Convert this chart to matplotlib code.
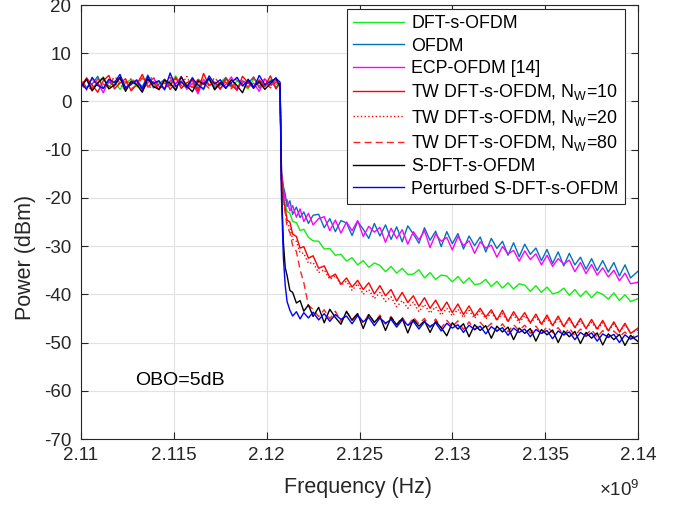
import matplotlib
matplotlib.use("Agg")
import matplotlib.pyplot as plt
from matplotlib.ticker import FixedLocator, FixedFormatter

plt.rcParams['font.family'] = ['Liberation Sans', 'DejaVu Sans']
plt.rcParams['mathtext.fontset'] = 'custom'
plt.rcParams['mathtext.rm'] = 'Liberation Sans'
plt.rcParams['mathtext.it'] = 'Liberation Sans:italic'
plt.rcParams['axes.unicode_minus'] = False

# ---------------- data (frequency in GHz, power in dBm) ----------------
f_in = [2.1100, 2.1103, 2.1106, 2.1109, 2.1112, 2.1115, 2.1118, 2.1121, 2.1124, 2.1127,
        2.1130, 2.1133, 2.1136, 2.1139, 2.1142, 2.1145, 2.1148, 2.1151, 2.1154, 2.1157,
        2.1160, 2.1163, 2.1166, 2.1169, 2.1172, 2.1175, 2.1178, 2.1181, 2.1184, 2.1187,
        2.1190, 2.1193, 2.1196, 2.1199, 2.1202, 2.1205, 2.12072]
f_out = [2.12080, 2.12090, 2.12100, 2.12110, 2.12125, 2.12140, 2.12160, 2.12180, 2.12200, 2.12225,
         2.12250, 2.12280, 2.12310, 2.12340, 2.12370, 2.12400, 2.12430, 2.12460, 2.12490, 2.12520,
         2.1255, 2.1258, 2.1261, 2.1264, 2.1267, 2.1270, 2.1273, 2.1276, 2.1279, 2.1282,
         2.1285, 2.1288, 2.1291, 2.1294, 2.1297, 2.1300, 2.1303, 2.1306, 2.1309, 2.1312,
         2.1315, 2.1318, 2.1321, 2.1324, 2.1327, 2.1330, 2.1333, 2.1336, 2.1339, 2.1342,
         2.1345, 2.1348, 2.1351, 2.1354, 2.1357, 2.1360, 2.1363, 2.1366, 2.1369, 2.1372,
         2.1375, 2.1378, 2.1381, 2.1384, 2.1387, 2.1390, 2.1393, 2.1396, 2.1400]

dft_in = [3.2, 4.5, 2.8, 3.9, 5.1, 3.0, 4.2, 2.5, 3.8, 4.6, 3.1, 2.7, 4.9, 3.5, 4.1, 2.6, 3.7, 5.3, 3.3, 2.9,
          4.4, 3.6, 2.4, 4.8, 3.2, 3.9, 5.0, 2.8, 4.3, 3.4, 2.6, 4.7, 3.8, 3.0, 4.5, 3.6, 3.3]
dft_out = [-16.0, -19.6, -21.3, -22.8, -23.2, -24.9, -25.1, -26.8, -26.5, -28.2,
           -28.9, -29.0, -30.6, -30.5, -31.9, -31.7, -33.1, -32.4, -33.9, -33.0,
           -34.4, -33.5, -34.0, -35.3, -34.2, -35.6, -34.6, -35.9, -35.8, -34.9,
           -36.6, -35.5, -36.9, -36.0, -36.2, -37.4, -36.3, -37.7, -36.6, -38.0,
           -37.8, -36.9, -38.4, -37.3, -38.7, -37.6, -38.9, -37.8, -38.1, -39.4,
           -38.2, -39.6, -38.5, -39.9, -39.6, -38.7, -40.2, -39.0, -40.5, -39.3,
           -40.7, -39.5, -40.0, -41.0, -39.7, -41.3, -40.1, -41.5, -40.9]

ofdm_in = [4.1, 2.9, 3.6, 5.2, 2.7, 4.0, 3.3, 4.8, 2.6, 3.9, 4.4, 3.0, 5.5, 2.8, 3.6, 4.6, 2.5, 3.8, 4.2, 3.1,
           5.0, 2.7, 3.9, 4.5, 2.9, 3.4, 4.9, 3.2, 2.6, 4.3, 3.7, 5.1, 2.8, 3.5, 4.2, 3.0, 3.6]
ofdm_out = [-14.5, -17.6, -19.2, -21.8, -20.6, -23.4, -21.9, -24.1, -22.9, -25.3,
            -23.6, -23.4, -26.2, -24.3, -27.0, -24.7, -25.2, -27.8, -24.9, -26.5,
            -28.4, -25.3, -27.9, -25.6, -28.6, -26.0, -29.1, -25.8, -27.5, -29.4,
            -26.2, -28.8, -26.9, -30.1, -27.0, -29.5, -27.4, -30.6, -27.9, -29.9,
            -28.1, -31.2, -28.4, -30.5, -29.0, -31.9, -29.3, -32.2, -29.6, -31.7,
            -30.4, -33.0, -30.7, -33.6, -31.2, -34.1, -31.5, -33.9, -32.3, -34.8,
            -32.6, -35.1, -33.0, -35.4, -33.4, -36.2, -33.9, -36.6, -35.2]

ecp_in = [3.5, 4.7, 2.6, 3.9, 1.8, 4.4, 3.2, 5.0, 2.9, 3.7, 4.5, 2.2, 3.9, 4.8, 3.1, 2.7, 4.3, 3.6, 5.2, 2.5,
          3.8, 1.6, 4.6, 3.3, 4.0, 2.8, 3.5, 5.1, 2.4, 4.2, 3.0, 3.8, 2.1, 4.7, 3.4, 4.0, 3.4]
ecp_out = [-15.2, -18.3, -20.5, -20.4, -22.7, -21.6, -24.0, -22.3, -24.9, -23.2,
           -25.6, -24.3, -23.9, -26.8, -24.6, -27.3, -25.0, -26.8, -24.7, -28.0,
           -25.9, -27.1, -26.1, -29.2, -26.3, -28.4, -26.6, -29.6, -27.0, -28.7,
           -26.8, -30.3, -27.5, -29.0, -28.2, -30.8, -28.0, -29.9, -28.9, -31.5,
           -29.1, -30.4, -29.8, -32.3, -30.1, -31.6, -30.9, -33.1, -31.0, -32.8,
           -31.6, -33.9, -31.9, -34.2, -32.6, -33.7, -32.9, -35.3, -33.4, -35.7,
           -33.8, -36.0, -34.5, -36.4, -35.0, -37.2, -35.6, -37.8, -37.5]

tw10_in = [2.8, 4.9, 3.4, 1.9, 4.3, 5.4, 2.6, 3.8, 4.7, 2.2, 3.5, 5.6, 3.0, 4.1, 2.4, 4.6, 3.2, 5.0, 2.7, 3.9,
           4.4, 2.1, 5.8, 3.3, 4.0, 2.5, 4.8, 3.6, 2.3, 5.2, 3.9, 2.8, 4.5, 3.1, 5.3, 2.6, 3.8]
tw10_out = [-16.2, -20.3, -22.1, -24.6, -25.0, -27.5, -28.0, -30.4, -30.1, -32.5,
            -32.0, -34.6, -34.1, -36.5, -35.8, -37.9, -36.6, -38.5, -37.1, -39.0,
            -37.6, -39.9, -38.2, -40.3, -39.0, -41.4, -39.6, -41.7, -40.3, -42.5,
            -40.7, -42.9, -41.2, -43.4, -41.6, -43.8, -42.0, -44.2, -42.4, -44.5,
            -42.9, -44.7, -43.2, -45.3, -43.3, -45.6, -43.6, -45.4, -43.8, -45.9,
            -44.1, -46.2, -44.3, -46.5, -44.5, -46.7, -44.8, -46.9, -45.0, -47.1,
            -45.2, -47.2, -45.4, -47.6, -45.7, -47.8, -46.0, -48.1, -47.0]

tw20_in = [3.6, 2.4, 4.5, 3.1, 5.0, 2.9, 4.1, 3.5, 2.3, 4.8, 3.7, 2.8, 4.4, 5.1, 3.0, 3.9, 2.6, 4.6, 3.4, 5.2,
           2.7, 4.0, 3.3, 4.7, 2.5, 3.8, 4.3, 2.9, 5.0, 3.5, 4.1, 2.7, 3.9, 4.6, 3.2, 4.4, 3.5]
tw20_out = [-16.1, -20.8, -22.6, -25.3, -26.1, -28.6, -29.0, -31.4, -31.5, -33.6,
            -33.4, -35.5, -34.9, -36.9, -36.1, -38.1, -37.3, -39.2, -37.8, -40.0,
            -39.0, -40.9, -39.6, -41.5, -40.5, -42.6, -41.3, -42.9, -41.6, -43.6,
            -42.1, -43.9, -42.6, -44.3, -42.9, -44.5, -43.1, -44.8, -43.3, -45.0,
            -43.5, -45.1, -43.8, -45.4, -44.0, -45.7, -44.2, -45.9, -44.4, -46.0,
            -44.7, -46.3, -44.9, -46.5, -45.1, -46.7, -45.3, -47.0, -45.5, -47.1,
            -45.8, -47.3, -45.9, -47.6, -46.1, -47.8, -46.3, -48.0, -47.4]

tw80_in = [4.3, 3.0, 2.5, 4.7, 3.6, 2.9, 5.3, 3.8, 4.1, 2.6, 3.4, 4.9, 3.1, 2.8, 4.5, 3.7, 5.0, 2.4, 4.2, 3.5,
           2.9, 4.6, 3.9, 2.7, 5.1, 3.3, 4.0, 2.6, 4.4, 3.8, 2.9, 4.9, 3.2, 4.1, 2.8, 4.5, 3.2]
tw80_out = [-16.3, -20.6, -23.2, -25.9, -27.2, -29.9, -31.1, -34.9, -37.6, -42.3,
            -43.1, -44.6, -43.2, -45.1, -43.5, -45.6, -43.7, -45.2, -44.0, -46.0,
            -44.1, -45.9, -44.3, -46.2, -44.6, -46.3, -44.7, -46.6, -44.8, -46.1,
            -45.0, -46.9, -45.1, -47.0, -45.4, -46.7, -45.5, -47.3, -45.7, -47.4,
            -45.8, -47.1, -46.0, -47.7, -46.1, -47.8, -46.3, -47.5, -46.4, -48.1,
            -46.6, -48.2, -46.7, -47.9, -46.9, -48.5, -47.0, -48.6, -47.2, -48.3,
            -47.3, -48.9, -47.5, -49.0, -47.6, -48.7, -47.8, -49.2, -48.0]

sdft_in = [3.0, 4.6, 2.2, 3.8, 4.9, 2.6, 3.4, 5.0, 2.1, 4.2, 3.5, 1.9, 4.7, 3.1, 2.5, 4.4, 3.8, 2.3, 5.1, 3.2,
           2.0, 4.3, 3.6, 4.8, 2.4, 3.9, 2.7, 4.5, 3.3, 1.8, 4.6, 3.0, 4.1, 2.5, 3.7, 4.9, 3.0]
sdft_out = [-18.0, -29.2, -34.5, -36.1, -39.2, -39.6, -41.8, -41.3, -43.5, -42.2,
            -44.6, -42.7, -45.9, -43.1, -44.8, -46.2, -43.5, -45.4, -44.0, -47.1,
            -44.2, -45.8, -44.6, -47.5, -44.8, -46.3, -45.0, -48.0, -45.2, -46.6,
            -45.5, -47.9, -45.6, -46.9, -48.6, -45.9, -47.2, -46.1, -48.8, -46.3,
            -47.5, -46.5, -49.1, -46.6, -47.8, -46.8, -49.4, -47.0, -48.1, -47.1,
            -49.7, -47.3, -48.4, -47.4, -50.0, -47.6, -48.8, -47.7, -50.2, -47.9,
            -49.1, -48.0, -50.5, -48.2, -49.4, -48.3, -50.6, -48.5, -49.8]

psdft_in = [3.8, 2.5, 5.0, 3.3, 2.7, 4.6, 3.9, 5.6, 2.8, 3.5, 4.4, 2.6, 5.2, 3.7, 4.3, 2.4, 5.9, 3.1, 4.0, 2.9,
            4.8, 3.4, 2.6, 5.3, 3.6, 4.5, 2.8, 3.9, 5.0, 3.2, 4.4, 2.7, 5.4, 3.5, 4.1, 4.8, 4.0]
psdft_out = [-20.3, -32.4, -38.2, -41.5, -43.3, -44.5, -43.6, -45.1, -43.8, -44.9,
             -43.7, -45.3, -44.0, -45.6, -44.2, -45.2, -44.5, -46.1, -44.4, -45.7,
             -44.8, -46.5, -44.9, -46.0, -45.2, -46.8, -45.3, -46.4, -45.6, -47.2,
             -45.7, -46.7, -45.9, -47.6, -46.0, -47.0, -46.3, -47.9, -46.4, -47.3,
             -46.6, -48.2, -46.7, -47.6, -46.9, -48.5, -47.0, -47.9, -47.2, -48.8,
             -47.3, -48.1, -47.5, -49.2, -47.6, -48.4, -47.8, -49.4, -47.9, -48.7,
             -48.0, -49.7, -48.2, -48.9, -48.3, -50.0, -48.4, -49.3, -48.6]

labels = ['DFT-s-OFDM', 'OFDM', 'ECP-OFDM [14]',
          'TW DFT-s-OFDM, N$_{\\mathrm{W}}$=10',
          'TW DFT-s-OFDM, N$_{\\mathrm{W}}$=20',
          'TW DFT-s-OFDM, N$_{\\mathrm{W}}$=80',
          'S-DFT-s-OFDM', 'Perturbed S-DFT-s-OFDM']
xticks = [2.11, 2.115, 2.12, 2.125, 2.13, 2.135, 2.14]
xticklabels = ['2.11', '2.115', '2.12', '2.125', '2.13', '2.135', '2.14']
yticks = [-70, -60, -50, -40, -30, -20, -10, 0, 10, 20]

series = [(dft_in, dft_out), (ofdm_in, ofdm_out), (ecp_in, ecp_out),
          (tw10_in, tw10_out), (tw20_in, tw20_out), (tw80_in, tw80_out),
          (sdft_in, sdft_out), (psdft_in, psdft_out)]
for a, b in series:
    assert len(a) == len(f_in) and len(b) == len(f_out), (len(a), len(b))

styles = [dict(color='#11ee11', ls='-'), dict(color='#0072bd', ls='-'),
          dict(color='#ff00ff', ls='-'), dict(color='#ff0000', ls='-'),
          dict(color='#ff0000', ls=':'), dict(color='#ff2222', ls=(0, (5, 3))),
          dict(color='#000000', ls='-'), dict(color='#0000ff', ls='-')]

# ---------------- figure ----------------
fig = plt.figure(figsize=(6.83, 5.05), dpi=100)
ax = fig.add_axes([81/683, 1-439/505, 557/683, 434/505])

freq = f_in + f_out
for (a, b), st, lab in zip(series, styles, labels):
    ax.plot(freq, a + b, lw=1.0, label=lab, **st)

ax.set_xlim(2.11, 2.14)
ax.set_ylim(-70, 20)
ax.xaxis.set_major_locator(FixedLocator(xticks))
ax.xaxis.set_major_formatter(FixedFormatter(xticklabels))
ax.set_yticks(yticks)
ax.grid(True, color='#e2e2e2', lw=0.8)
ax.set_axisbelow(True)
dark = '#262626'
for s in ax.spines.values():
    s.set_color(dark)
    s.set_linewidth(0.8)
ax.tick_params(direction='in', length=5, width=0.8, colors=dark, labelsize=13.5,
               top=True, right=True)
ax.tick_params(axis='x', pad=6)
ax.tick_params(axis='y', pad=7)

fig.text(358/683, 1-487/505, 'Frequency (Hz)', ha='center', va='center', fontsize=15.5, color=dark)
fig.text(25/683, 1-257/505, 'Power (dBm)', ha='center', va='center', rotation=90, fontsize=15.5, color=dark)
fig.text(640/683, 1-490/505, '$\\times$10$^{9}$', ha='right', va='center', fontsize=13.5, color=dark)
ax.text(2.11291, -57.9, 'OBO=5dB', ha='left', va='center', fontsize=14, color='k')

leg = ax.legend(loc='upper right', bbox_to_anchor=(0.9767, 0.9908), borderaxespad=0,
                fontsize=12.8, handlelength=2.9, handletextpad=0.4, labelspacing=0.3,
                borderpad=0.35, fancybox=False, framealpha=1, edgecolor='#262626')
leg.get_frame().set_linewidth(0.8)

fig.savefig('out.png', dpi=100)
